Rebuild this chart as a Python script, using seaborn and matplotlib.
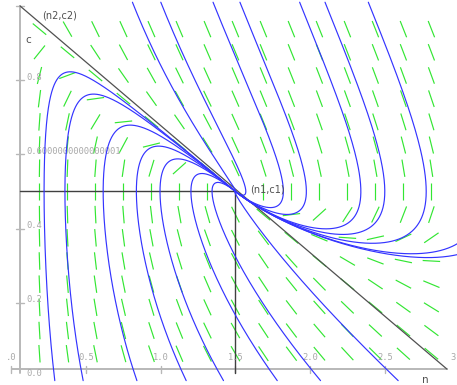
import numpy as np
import pandas as pd
import matplotlib
matplotlib.use("Agg")
import matplotlib.pyplot as plt
from matplotlib.collections import LineCollection
import seaborn as sns

# chemostat model  n' = a1*c/(1+c)*n - n ,  c' = -c/(1+c)*n - c + a2
alpha1 = 3.0
alpha2 = 1.0

# equilibria
n1, c1 = 1.5, 0.5
n2, c2 = 0.0, 1.0

# starting points of the blue trajectories
start_n = [0.29, 0.48, 0.84, 1.17, 1.42, 1.78, 2.07, 2.59,
           0.81, 1.00, 1.35, 1.53, 1.93, 2.10, 2.39,
           2.99, 2.99]
start_c = [-0.01, -0.01, -0.01, -0.01, -0.01, -0.01, -0.01, -0.01,
           1.01, 1.01, 1.01, 1.01, 1.01, 1.01, 1.01,
           0.36, 0.33]

# direction field grid
grid_n = np.linspace(0.1875, 2.8125, 15)
grid_c = np.linspace(0.0625, 0.9375, 15)

# axis tick labels as drawn
xtick_pos = [0.0, 0.5, 1.0, 1.5, 2.0, 2.5, 3.0]
xtick_lab = [".0", "0.5", "1.0", "1.5", "2.0", "2.5", "3"]
ytick_pos = [0.0, 0.2, 0.4, 0.6, 0.8]
ytick_lab = ["0.0", "0.2", "0.4", "0.6000000000000001", "0.8"]

# where the plot axes were drawn
axis_n = 0.057
axis_c = 0.021
axis_nmax = 2.917

xlim = (-0.077, 2.984)
ylim = (-0.0218, 1.016)
W, H = 457, 385
sx = W / (xlim[1] - xlim[0])
sy = H / (ylim[1] - ylim[0])


def rhs(n, c):
    g = c / (1 + c)
    return alpha1 * g * n - n, -g * n - c + alpha2


def trace(n0, c0, dt=0.01, steps=2500):
    n, c = n0, c0
    pts = [(n, c)]
    for _ in range(steps):
        a1, b1 = rhs(n, c)
        a2, b2 = rhs(n + dt / 2 * a1, c + dt / 2 * b1)
        a3, b3 = rhs(n + dt / 2 * a2, c + dt / 2 * b2)
        a4, b4 = rhs(n + dt * a3, c + dt * b3)
        n = n + dt / 6 * (a1 + 2 * a2 + 2 * a3 + a4)
        c = c + dt / 6 * (b1 + 2 * b2 + 2 * b3 + b4)
        pts.append((n, c))
        if n < -0.5 or n > 4 or c < -0.3 or c > 1.5:
            break
    return pts


rows = []
for i, (n0, c0) in enumerate(zip(start_n, start_c)):
    for n, c in trace(n0, c0):
        rows.append((i, n, c))
df = pd.DataFrame(rows, columns=["traj", "n", "c"])

sns.set_theme(style="white")
fig = plt.figure(figsize=(W / 100, H / 100), dpi=100)
ax = fig.add_axes([0, 0, 1, 1])
ax.set_axis_off()
ax.set_xlim(*xlim)
ax.set_ylim(*ylim)

# direction field: fixed length segments in screen space
half = 8.75
segs = []
for n in grid_n:
    for c in grid_c:
        dn, dc = rhs(n, c)
        px, py = dn * sx, dc * sy
        L = np.hypot(px, py)
        ux, uy = px / L, py / L
        en, ec = half * ux / sx, half * uy / sy
        segs.append([(n - en, c - ec), (n + en, c + ec)])
ax.add_collection(LineCollection(segs, colors="#33e633", linewidths=0.85, zorder=1))

# axes
ax_col = "#b8b8b8"
ax.plot([axis_n, axis_n], [0.011, 1.0], color=ax_col, lw=1.4, zorder=0)
ax.plot([0.003, axis_nmax], [axis_c, axis_c], color=ax_col, lw=1.4, zorder=0)
ax.plot([axis_n - 0.027, axis_n + 0.03], [1.0, 1.0], color=ax_col, lw=1.0, zorder=0)
for x in xtick_pos:
    ax.plot([x, x], [axis_c - 0.011, axis_c + 0.008], color=ax_col, lw=1.0, zorder=0)
for y in ytick_pos[1:]:
    ax.plot([axis_n - 0.027, axis_n + 0.03], [y, y], color=ax_col, lw=1.0, zorder=0)
for x, lab in zip(xtick_pos, xtick_lab):
    xx = min(x, 2.955)
    ax.text(xx, 0.051, lab, fontsize=6.3, family="DejaVu Sans Mono", color="#a8a8a8",
            ha="center", va="center")
for y, lab in zip(ytick_pos, ytick_lab):
    ax.text(0.097, y + 0.008, lab, fontsize=6.3, family="DejaVu Sans Mono", color="#a8a8a8",
            ha="left", va="center")

# trajectories
sns.lineplot(data=df, x="n", y="c", units="traj", estimator=None, sort=False,
             color="#3434ff", lw=0.85, legend=False, ax=ax, zorder=3)
ax.set_xlim(*xlim)
ax.set_ylim(*ylim)

# line through the equilibria and the cross-hair at (n1,c1)
ax.plot([axis_n, axis_nmax], [1.0, axis_c], color="#505050", lw=0.9, zorder=2)
ax.plot([axis_n, n1], [c1, c1], color="#404040", lw=1.0, zorder=2)
ax.plot([n1, n1], [c1, axis_c - 0.01], color="#404040", lw=1.0, zorder=2)

txt = "#505050"
ax.text(0.325, 0.975, "(n2,c2)", fontsize=7, color=txt, ha="center", va="center")
ax.text(1.597, 0.506, "(n1,c1)", fontsize=7, color=txt, ha="left", va="center")
ax.text(0.11, 0.908, "c", fontsize=7.5, color=txt, ha="center", va="center")
ax.text(2.77, -0.008, "n", fontsize=7.5, color=txt, ha="center", va="center")

fig.savefig("out.png", dpi=100)
